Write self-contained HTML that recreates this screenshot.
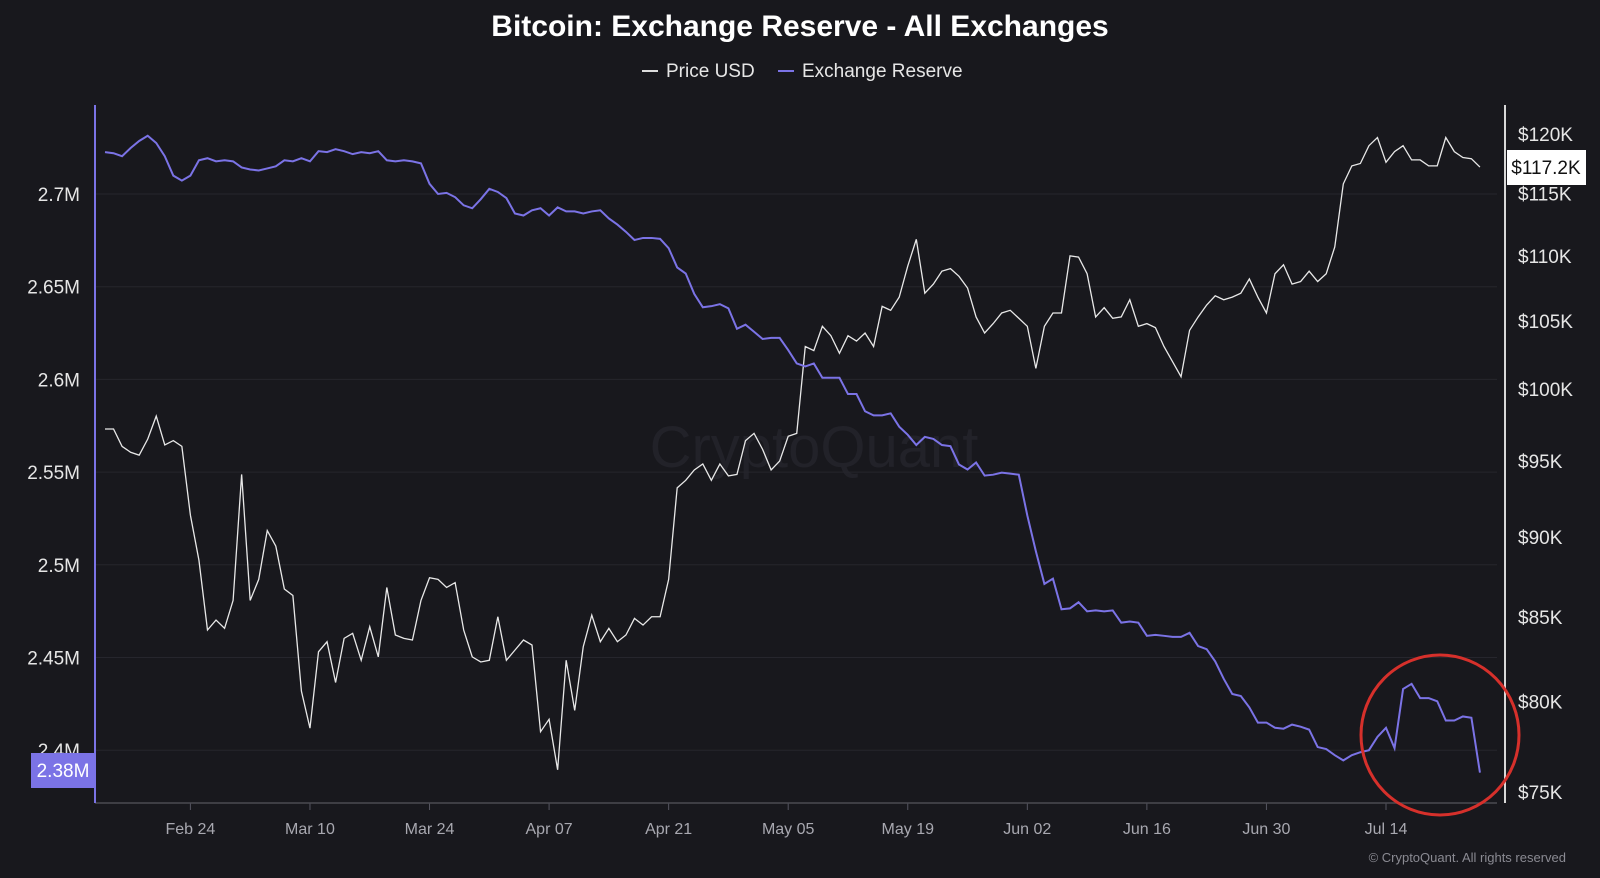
<!DOCTYPE html>
<html><head><meta charset="utf-8"><style>
html,body{margin:0;padding:0;background:#18181d;}
svg{display:block;font-family:"Liberation Sans",sans-serif;}
</style></head><body>
<svg id="chart" width="1600" height="878" viewBox="0 0 1600 878" xmlns="http://www.w3.org/2000/svg">
<rect width="1600" height="878" fill="#18181d"/>
<text x="800" y="36" text-anchor="middle" font-size="30" font-weight="bold" fill="#ffffff">Bitcoin: Exchange Reserve - All Exchanges</text>
<g>
<g><line x1="642" y1="71" x2="658" y2="71" stroke="#dddddd" stroke-width="2"/><text x="666" y="77" font-size="19" fill="#e6e6e6">Price USD</text></g>
<g><line x1="778" y1="71" x2="794" y2="71" stroke="#7b73e6" stroke-width="2"/><text x="802" y="77" font-size="19" fill="#e6e6e6">Exchange Reserve</text></g>
</g>
<text x="814" y="467" text-anchor="middle" font-size="58" fill="#222229">CryptoQuant</text>
<g id="grid"></g>
<g id="axes"></g>
<g id="series"></g>
<ellipse cx="1440" cy="735" rx="79" ry="80" fill="none" stroke="#d6302b" stroke-width="3"/>
<text x="1566" y="862" text-anchor="end" font-size="13" fill="#8a8a92">© CryptoQuant. All rights reserved</text>
</svg>
<script>
const startDate = "2025-02-14";
const xTickLabels = ["Feb 24","Mar 10","Mar 24","Apr 07","Apr 21","May 05","May 19","Jun 02","Jun 16","Jun 30","Jul 14"];
const xTickDayIndex = [10,24,38,52,66,80,94,108,122,136,150];
const leftTicks = [2.4,2.45,2.5,2.55,2.6,2.65,2.7];
const leftTickLabels = ["2.4M","2.45M","2.5M","2.55M","2.6M","2.65M","2.7M"];
const rightTicks = [75,80,85,90,95,100,105,110,115,120];
const rightTickLabels = ["$75K","$80K","$85K","$90K","$95K","$100K","$105K","$110K","$115K","$120K"];
const priceK = [97.2,97.2,96.0,95.6,95.4,96.5,98.1,96.1,96.4,96.0,91.4,88.5,84.2,84.8,84.3,86.0,94.1,86.0,87.3,90.4,89.4,86.7,86.3,80.6,78.5,82.9,83.5,81.1,83.7,84.0,82.4,84.4,82.6,86.8,83.9,83.7,83.6,86.0,87.4,87.3,86.8,87.1,84.2,82.6,82.3,82.4,85.0,82.4,83.0,83.6,83.3,78.3,79.0,76.2,82.4,79.5,83.2,85.1,83.5,84.3,83.5,83.9,84.9,84.5,85.0,85.0,87.3,93.2,93.7,94.4,94.8,93.7,94.8,94.0,94.1,96.4,96.9,95.8,94.4,95.0,96.7,96.9,103.1,102.8,104.6,103.9,102.6,103.9,103.5,104.1,103.1,106.1,105.8,106.8,109.2,111.3,107.1,107.8,108.8,109.0,108.4,107.5,105.3,104.1,104.8,105.6,105.8,105.2,104.6,101.5,104.6,105.6,105.6,110.0,109.9,108.6,105.3,106.0,105.2,105.3,106.6,104.6,104.8,104.5,103.1,102.0,100.9,104.3,105.3,106.2,106.9,106.6,106.8,107.1,108.2,106.8,105.6,108.6,109.3,107.8,108.0,108.8,108.0,108.6,110.7,115.8,117.3,117.5,119.0,119.7,117.6,118.5,119.0,117.8,117.8,117.3,117.3,119.7,118.5,118.0,117.9,117.2];
const reserveM = [2.7226,2.7220,2.7204,2.7248,2.7286,2.7314,2.7275,2.7204,2.7099,2.7072,2.7099,2.7182,2.7193,2.7176,2.7182,2.7176,2.7143,2.7132,2.7127,2.7138,2.7149,2.7182,2.7176,2.7193,2.7176,2.7231,2.7226,2.7242,2.7231,2.7215,2.7226,2.7220,2.7231,2.7182,2.7176,2.7182,2.7176,2.7165,2.7055,2.7000,2.7006,2.6983,2.6939,2.6923,2.6972,2.7028,2.7011,2.6978,2.6895,2.6884,2.6912,2.6923,2.6884,2.6928,2.6906,2.6906,2.6895,2.6906,2.6912,2.6868,2.6835,2.6796,2.6752,2.6763,2.6763,2.6758,2.6708,2.6604,2.6571,2.6461,2.6389,2.6395,2.6406,2.6383,2.6273,2.6295,2.6257,2.6218,2.6224,2.6224,2.6158,2.6086,2.6070,2.6086,2.6009,2.6009,2.6009,2.5921,2.5921,2.5828,2.5806,2.5806,2.5817,2.5745,2.5701,2.5646,2.5690,2.5679,2.5646,2.5640,2.5541,2.5514,2.5552,2.5481,2.5486,2.5497,2.5492,2.5486,2.5266,2.5073,2.4897,2.4925,2.4760,2.4765,2.4798,2.4749,2.4754,2.4749,2.4754,2.4688,2.4694,2.4688,2.4617,2.4622,2.4617,2.4611,2.4611,2.4633,2.4562,2.4545,2.4479,2.4385,2.4303,2.4292,2.4231,2.4149,2.4149,2.4121,2.4116,2.4138,2.4127,2.4111,2.4017,2.4006,2.3973,2.3945,2.3973,2.3989,2.4000,2.4072,2.4121,2.4011,2.4330,2.4358,2.4281,2.4281,2.4264,2.4160,2.4160,2.4182,2.4175,2.3879];

const NS="http://www.w3.org/2000/svg";
const L=95, R=1505, T=105, B=803;
const x = d => 105 + d*8.54;
const yL = v => 194 + (2.7 - v)/0.05*92.7;
const yR = v => 134 + Math.log(120/v)/Math.log(120/75)*658;
function mk(tag, attrs, parent, txt){const e=document.createElementNS(NS,tag);for(const k in attrs)e.setAttribute(k,attrs[k]);if(txt!==undefined)e.textContent=txt;parent.appendChild(e);return e;}
const grid=document.getElementById('grid'), axes=document.getElementById('axes'), series=document.getElementById('series');

leftTicks.forEach((v,i)=>{
  const g=mk('line',{x1:L,x2:1497,y1:yL(v),y2:yL(v),stroke:'#26262d','stroke-width':1},grid);
  
  
  const t=mk('text',{x:80,y:yL(v)+7,'text-anchor':'end','font-size':19,fill:'#e6e6e6'},axes,leftTickLabels[i]);
  
  
});
rightTicks.forEach((v,i)=>{
  const t=mk('text',{x:1518,y:yR(v)+7,'font-size':19,fill:'#e6e6e6'},axes,rightTickLabels[i]);
  
  
});
xTickLabels.forEach((s,i)=>{
  const xx=x(xTickDayIndex[i]);
  const tk=mk('line',{x1:xx,x2:xx,y1:B,y2:B+7,stroke:'#555560'},axes);
  
  
  const t=mk('text',{x:xx,y:834,'text-anchor':'middle','font-size':16,fill:'#a8a8b0'},axes,s);
  
  
});
const xa=mk('line',{x1:L,x2:1497,y1:B,y2:B,stroke:'#4a4a52','stroke-width':1.5},axes);


const la=mk('line',{x1:L,x2:L,y1:T,y2:B,stroke:'#7b73e6','stroke-width':2},axes);


const ra=mk('line',{x1:R,x2:R,y1:T,y2:B,stroke:'#d8d8d8','stroke-width':2},axes);



const pp=mk('polyline',{points:priceK.map((v,i)=>x(i)+','+yR(v)).join(' '),fill:'none',stroke:'#e8e8e8','stroke-width':1.3},series);


const rp=mk('polyline',{points:reserveM.map((v,i)=>x(i)+','+yL(v)).join(' '),fill:'none',stroke:'#7b73e6','stroke-width':2},series);



const lastR=reserveM[reserveM.length-1], lastP=priceK[priceK.length-1];
const b1=mk('g',{},axes);


mk('rect',{x:31,y:753,width:64,height:35,fill:'#7b73e6'},b1);
mk('text',{x:63,y:777,'text-anchor':'middle','font-size':19,fill:'#ffffff'},b1,(Math.floor(lastR*100)/100).toFixed(2)+'M');
const b2=mk('g',{},axes);


mk('rect',{x:1507,y:150,width:79,height:35,fill:'#ffffff'},b2);
mk('text',{x:1546,y:174,'text-anchor':'middle','font-size':19,fill:'#111111'},b2,'$'+lastP.toFixed(1)+'K');
</script>
</body></html>
